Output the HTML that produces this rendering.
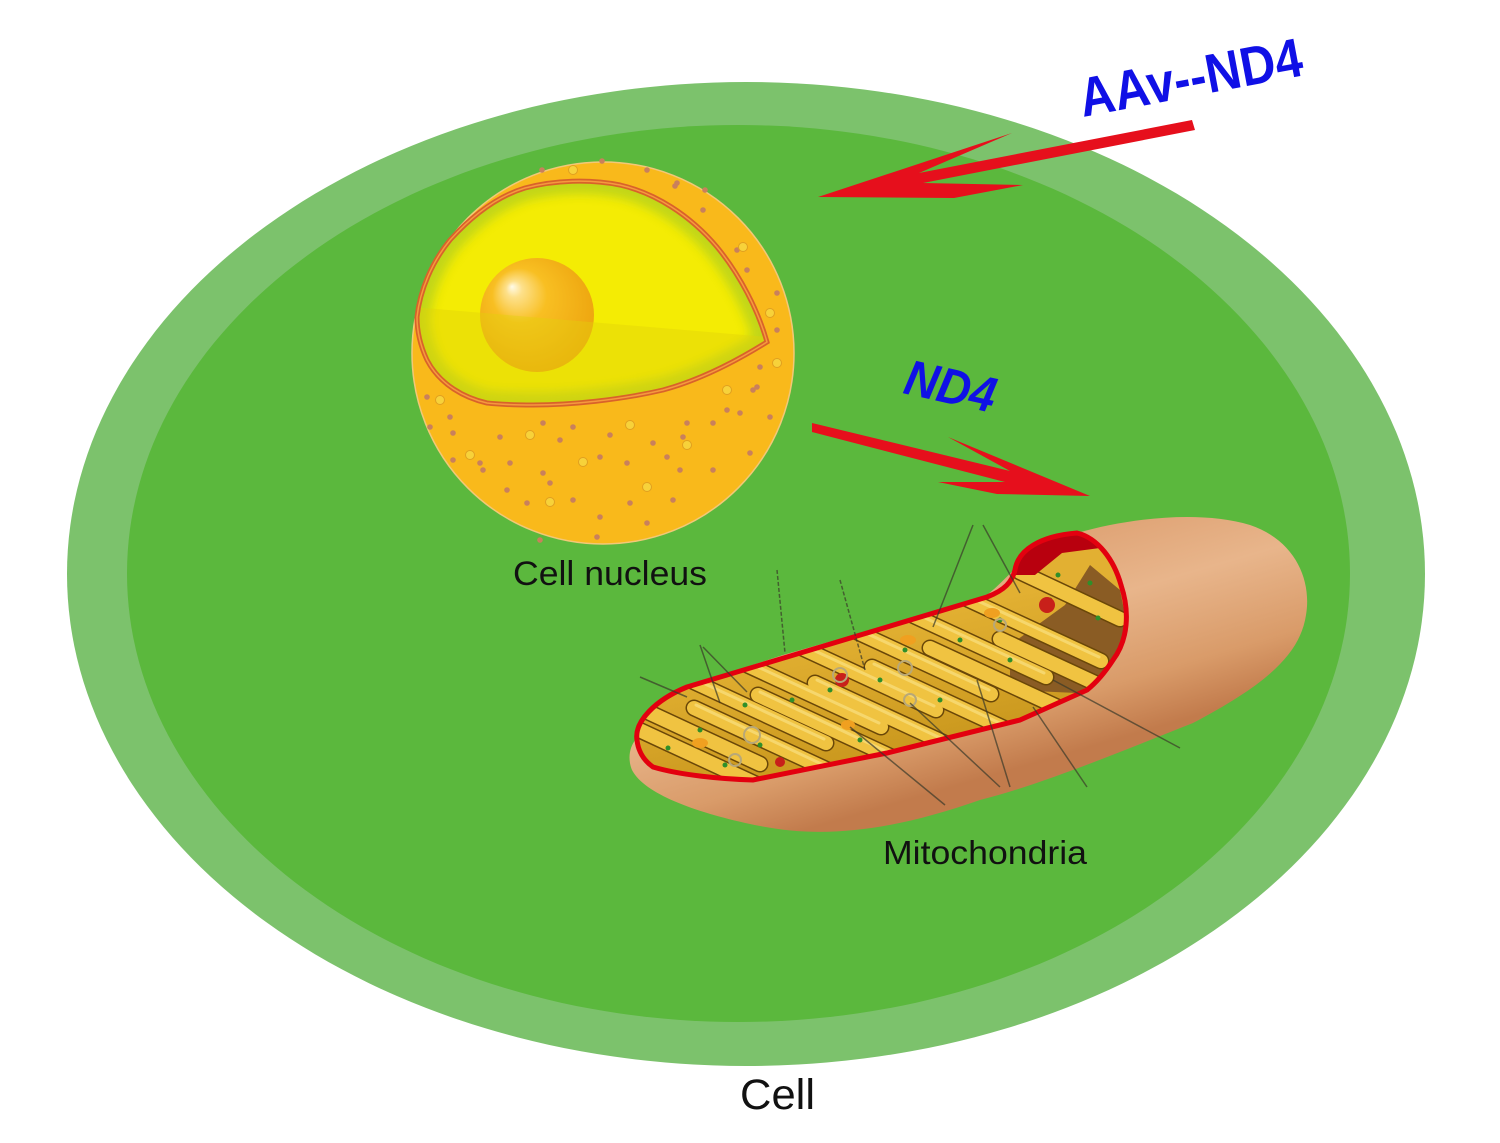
<!DOCTYPE html>
<html><head><meta charset="utf-8"><style>
html,body{margin:0;padding:0;background:#fff;}
svg{display:block;}
text{font-family:"Liberation Sans",Arial,sans-serif;}
</style></head><body>
<svg width="1500" height="1143" viewBox="0 0 1500 1143" xmlns="http://www.w3.org/2000/svg">
<defs>
  <radialGradient id="nucleolus" cx="0.45" cy="0.45" r="0.6" fx="0.28" fy="0.25">
    <stop offset="0" stop-color="#fffbe8"/>
    <stop offset="0.12" stop-color="#fde08a"/>
    <stop offset="0.4" stop-color="#f8bf22"/>
    <stop offset="1" stop-color="#eda40e"/>
  </radialGradient>
  <linearGradient id="tan" gradientUnits="userSpaceOnUse" x1="1130" y1="512" x2="1190" y2="718">
    <stop offset="0" stop-color="#dfa375"/>
    <stop offset="0.35" stop-color="#e8b58b"/>
    <stop offset="0.75" stop-color="#d99b69"/>
    <stop offset="1" stop-color="#c27b4c"/>
  </linearGradient>
  <linearGradient id="goldbase" gradientUnits="userSpaceOnUse" x1="800" y1="640" x2="830" y2="780">
    <stop offset="0" stop-color="#e2b032"/>
    <stop offset="1" stop-color="#c8961c"/>
  </linearGradient>
  <clipPath id="cutclip">
    <path d="M637,740 C634,722 655,700 687,687 L787,657 L987,597 C1005,590 1012,582 1015,570 C1018,550 1040,536 1077,533 C1098,538 1114,560 1121,585 C1130,612 1128,640 1113,660 C1102,677 1092,686 1087,690 L1020,720 L887,753 L753,780 C720,779 680,775 653,767 C643,760 638,750 637,740 Z"/>
  </clipPath>
  <clipPath id="nucclip">
    <path d="M417,317 C420,290 432,262 450,240 C470,218 495,197 525,188 C555,180 590,179 620,185 C655,193 690,215 717,247 C740,275 758,310 767,342 C735,362 700,380 663,390 C620,400 570,405 533,405 C505,405 487,403 487,403 C465,398 440,385 427,360 C420,345 417,330 417,317 Z"/>
  </clipPath>
  <filter id="blur6" x="-20%" y="-20%" width="140%" height="140%"><feGaussianBlur stdDeviation="5"/></filter>
</defs>

<rect width="1500" height="1143" fill="#ffffff"/>

<!-- Cell -->
<ellipse cx="746" cy="574" rx="679" ry="492" fill="#7cc26c"/>
<ellipse cx="738.5" cy="573.5" rx="611.5" ry="448.5" fill="#5bb83d"/>

<!-- Nucleus -->
<circle cx="603" cy="353" r="191" fill="#f9b91b" stroke="#f2c878" stroke-width="1.5"/>
<g clip-path="url(#nucclip)">
  <rect x="400" y="170" width="400" height="250" fill="#f4ec04"/>
  <path d="M417,317 C420,290 432,262 450,240 C470,218 495,197 525,188 C555,180 590,179 620,185 C655,193 690,215 717,247 C740,275 758,310 767,342 C735,362 700,380 663,390 C620,400 570,405 533,405 C505,405 487,403 487,403 C465,398 440,385 427,360 C420,345 417,330 417,317 Z" fill="none" stroke="#b9d21f" stroke-width="26" filter="url(#blur6)" opacity="0.85"/>
  <circle cx="537" cy="315" r="57" fill="url(#nucleolus)"/>
  <polygon points="400,306 780,338 780,430 400,430" fill="#e2d30a" opacity="0.4"/>
</g>
<path d="M417,317 C420,290 432,262 450,240 C470,218 495,197 525,188 C555,180 590,179 620,185 C655,193 690,215 717,247 C740,275 758,310 767,342 C735,362 700,380 663,390 C620,400 570,405 533,405 C505,405 487,403 487,403 C465,398 440,385 427,360 C420,345 417,330 417,317 Z" fill="none" stroke="#d9622a" stroke-width="5"/>
<path d="M417,317 C420,290 432,262 450,240 C470,218 495,197 525,188 C555,180 590,179 620,185 C655,193 690,215 717,247 C740,275 758,310 767,342 C735,362 700,380 663,390 C620,400 570,405 533,405 C505,405 487,403 487,403 C465,398 440,385 427,360 C420,345 417,330 417,317 Z" fill="none" stroke="#f59a3e" stroke-width="1.5"/>
<!-- nucleus dots -->
<g fill="#c9805c">
  <circle cx="450" cy="417" r="2.8"/><circle cx="453" cy="433" r="2.8"/><circle cx="480" cy="463" r="2.8"/>
  <circle cx="500" cy="437" r="2.8"/><circle cx="510" cy="463" r="2.8"/><circle cx="543" cy="423" r="2.8"/>
  <circle cx="543" cy="473" r="2.8"/><circle cx="560" cy="440" r="2.8"/><circle cx="573" cy="427" r="2.8"/>
  <circle cx="600" cy="457" r="2.8"/><circle cx="610" cy="435" r="2.8"/><circle cx="627" cy="463" r="2.8"/>
  <circle cx="630" cy="503" r="2.8"/><circle cx="653" cy="443" r="2.8"/><circle cx="667" cy="457" r="2.8"/>
  <circle cx="683" cy="437" r="2.8"/><circle cx="687" cy="423" r="2.8"/><circle cx="713" cy="423" r="2.8"/>
  <circle cx="727" cy="410" r="2.8"/><circle cx="740" cy="413" r="2.8"/><circle cx="753" cy="390" r="2.8"/>
  <circle cx="770" cy="417" r="2.8"/><circle cx="750" cy="453" r="2.8"/><circle cx="713" cy="470" r="2.8"/>
  <circle cx="680" cy="470" r="2.8"/><circle cx="673" cy="500" r="2.8"/><circle cx="647" cy="523" r="2.8"/>
  <circle cx="600" cy="517" r="2.8"/><circle cx="573" cy="500" r="2.8"/><circle cx="550" cy="483" r="2.8"/>
  <circle cx="527" cy="503" r="2.8"/><circle cx="507" cy="490" r="2.8"/><circle cx="483" cy="470" r="2.8"/>
  <circle cx="453" cy="460" r="2.8"/><circle cx="777" cy="330" r="2.8"/><circle cx="777" cy="293" r="2.8"/>
  <circle cx="747" cy="270" r="2.8"/><circle cx="737" cy="250" r="2.8"/><circle cx="703" cy="210" r="2.8"/>
  <circle cx="677" cy="183" r="2.8"/><circle cx="647" cy="170" r="2.8"/><circle cx="760" cy="367" r="2.8"/>
  <circle cx="757" cy="387" r="2.8"/><circle cx="597" cy="537" r="2.8"/><circle cx="540" cy="540" r="2.8"/>
  <circle cx="427" cy="397" r="2.8"/><circle cx="430" cy="427" r="2.8"/><circle cx="602" cy="161" r="2.8"/>
  <circle cx="542" cy="170" r="2.8"/><circle cx="705" cy="190" r="2.8"/><circle cx="675" cy="186" r="2.8"/>
</g>
<g fill="#f7d23a" stroke="#e0a020" stroke-width="1">
  <circle cx="440" cy="400" r="4.5"/><circle cx="530" cy="435" r="4.5"/><circle cx="630" cy="425" r="4.5"/>
  <circle cx="687" cy="445" r="4.5"/><circle cx="583" cy="462" r="4.5"/><circle cx="550" cy="502" r="4.5"/>
  <circle cx="647" cy="487" r="4.5"/><circle cx="770" cy="313" r="4.5"/><circle cx="743" cy="247" r="4.5"/>
  <circle cx="470" cy="455" r="4.5"/><circle cx="727" cy="390" r="4.5"/><circle cx="777" cy="363" r="4.5"/>
  <circle cx="573" cy="170" r="4.5"/>
</g>

<!-- Mitochondrion outer -->
<path d="M637,738 C636,722 648,712 665,700 L700,682 L783,655 L867,631 L980,600 C995,590 1005,578 1017,567 C1030,552 1045,540 1077,533 C1130,518 1200,510 1250,525 C1295,540 1312,580 1306,615 C1300,655 1265,685 1193,723 C1120,752 1040,785 980,800 C900,828 830,840 760,826 C700,814 645,795 632,770 C627,758 630,745 637,738 Z" fill="url(#tan)"/>

<!-- Mitochondrion cut interior -->
<g clip-path="url(#cutclip)">
  <rect x="620" y="520" width="520" height="280" fill="url(#goldbase)"/>
  <polygon points="1010,690 1010,645 1065,605 1090,565 1120,590 1130,640 1103,677 1077,693" fill="#8a5c24"/>
  <g stroke-linecap="round" fill="none">
    <g stroke="#6a4708" stroke-width="17">
      <line x1="648" y1="712" x2="760" y2="764"/>
      <line x1="690" y1="680" x2="826" y2="743"/>
      <line x1="745" y1="664" x2="881" y2="727"/>
      <line x1="800" y1="647" x2="936" y2="710"/>
      <line x1="855" y1="631" x2="991" y2="694"/>
      <line x1="910" y1="614" x2="1046" y2="677"/>
      <line x1="965" y1="598" x2="1101" y2="661"/>
      <line x1="1020" y1="572" x2="1120" y2="619"/>
      <line x1="758" y1="785" x2="622" y2="722"/>
      <line x1="830" y1="771" x2="694" y2="708"/>
      <line x1="894" y1="758" x2="758" y2="695"/>
      <line x1="951" y1="746" x2="815" y2="683"/>
      <line x1="1008" y1="730" x2="872" y2="667"/>
      <line x1="1066" y1="711" x2="930" y2="648"/>
      <line x1="1110" y1="690" x2="1000" y2="639"/>
    </g>
    <g stroke="#f0c341" stroke-width="14">
      <line x1="648" y1="712" x2="760" y2="764"/>
      <line x1="690" y1="680" x2="826" y2="743"/>
      <line x1="745" y1="664" x2="881" y2="727"/>
      <line x1="800" y1="647" x2="936" y2="710"/>
      <line x1="855" y1="631" x2="991" y2="694"/>
      <line x1="910" y1="614" x2="1046" y2="677"/>
      <line x1="965" y1="598" x2="1101" y2="661"/>
      <line x1="1020" y1="572" x2="1120" y2="619"/>
      <line x1="758" y1="785" x2="622" y2="722"/>
      <line x1="830" y1="771" x2="694" y2="708"/>
      <line x1="894" y1="758" x2="758" y2="695"/>
      <line x1="951" y1="746" x2="815" y2="683"/>
      <line x1="1008" y1="730" x2="872" y2="667"/>
      <line x1="1066" y1="711" x2="930" y2="648"/>
      <line x1="1110" y1="690" x2="1000" y2="639"/>
    </g>
    <g stroke="#f8dc78" stroke-width="3" opacity="0.8">
      <line x1="690" y1="677" x2="824" y2="739"/>
      <line x1="745" y1="661" x2="879" y2="723"/>
      <line x1="800" y1="644" x2="934" y2="706"/>
      <line x1="855" y1="628" x2="989" y2="690"/>
      <line x1="910" y1="611" x2="1044" y2="673"/>
      <line x1="965" y1="595" x2="1099" y2="657"/>
      <line x1="830" y1="768" x2="696" y2="705"/>
      <line x1="894" y1="755" x2="760" y2="692"/>
      <line x1="951" y1="743" x2="817" y2="680"/>
      <line x1="1008" y1="727" x2="874" y2="664"/>
    </g>
  </g>
  <polygon points="1015,575 1022,550 1050,537 1080,533 1100,548 1062,553 1035,575" fill="#b8000e"/>
  <!-- particles -->
  <g fill="#2f8f2a">
    <circle cx="700" cy="730" r="2.5"/><circle cx="745" cy="705" r="2.5"/><circle cx="792" cy="700" r="2.5"/>
    <circle cx="830" cy="690" r="2.5"/><circle cx="880" cy="680" r="2.5"/><circle cx="860" cy="740" r="2.5"/>
    <circle cx="905" cy="650" r="2.5"/><circle cx="960" cy="640" r="2.5"/><circle cx="1000" cy="620" r="2.5"/>
    <circle cx="1050" cy="600" r="2.5"/><circle cx="1090" cy="583" r="2.5"/><circle cx="1098" cy="618" r="2.5"/>
    <circle cx="760" cy="745" r="2.5"/><circle cx="725" cy="765" r="2.5"/><circle cx="1010" cy="660" r="2.5"/>
    <circle cx="940" cy="700" r="2.5"/><circle cx="668" cy="748" r="2.5"/><circle cx="1058" cy="575" r="2.5"/>
  </g>
  <g fill="#c8201a">
    <circle cx="842" cy="680" r="7"/><circle cx="1047" cy="605" r="8"/><circle cx="780" cy="762" r="5"/>
  </g>
  <g fill="#f0a020">
    <ellipse cx="700" cy="743" rx="8" ry="5"/><ellipse cx="848" cy="725" rx="7" ry="5"/>
    <ellipse cx="908" cy="640" rx="8" ry="5"/><ellipse cx="992" cy="613" rx="8" ry="5"/>
  </g>
  <g fill="none" stroke="#b8a878" stroke-width="2">
    <circle cx="752" cy="735" r="8"/><circle cx="840" cy="675" r="7"/><circle cx="905" cy="668" r="7"/>
    <circle cx="1000" cy="625" r="6"/><circle cx="910" cy="700" r="6"/><circle cx="735" cy="760" r="6"/>
  </g>
</g>
<path d="M637,740 C634,722 655,700 687,687 L787,657 L987,597 C1005,590 1012,582 1015,570 C1018,550 1040,536 1077,533 C1098,538 1114,560 1121,585 C1130,612 1128,640 1113,660 C1102,677 1092,686 1087,690 L1020,720 L887,753 L753,780 C720,779 680,775 653,767 C643,760 638,750 637,740 Z" fill="none" stroke="#e3000f" stroke-width="5"/>

<!-- pointer lines -->
<g stroke="#3a3a2a" stroke-width="1.5" opacity="0.7" fill="none">
  <line x1="777" y1="570" x2="785" y2="653" stroke-dasharray="4,2"/>
  <line x1="840" y1="580" x2="865" y2="670" stroke-dasharray="4,2"/>
  <line x1="700" y1="645" x2="720" y2="703"/>
  <line x1="703" y1="647" x2="747" y2="692"/>
  <line x1="640" y1="677" x2="687" y2="697"/>
  <line x1="973" y1="525" x2="933" y2="627"/>
  <line x1="983" y1="525" x2="1020" y2="593"/>
  <line x1="850" y1="727" x2="945" y2="805"/>
  <line x1="910" y1="703" x2="1000" y2="787"/>
  <line x1="977" y1="680" x2="1010" y2="787"/>
  <line x1="1033" y1="707" x2="1087" y2="787"/>
  <line x1="1053" y1="680" x2="1180" y2="748"/>
</g>

<!-- Arrows -->
<polygon points="818,197 1012,133 919,173 1192,120 1195,130 923,183 1023,185 954,198" fill="#e60f1c"/>
<polygon points="812,423 1010,471 948,437 1090,496 997,494 938,482 1005,482 812,432" fill="#e60f1c"/>

<!-- Labels -->
<text x="1083" y="117" transform="rotate(-10.7 1083 117)" font-size="55" font-weight="bold" fill="#1010e6" textLength="226" lengthAdjust="spacingAndGlyphs">AAv--ND4</text>
<text x="902" y="393" transform="rotate(12.5 902 393)" font-size="50" font-weight="bold" font-style="italic" fill="#1010e6" textLength="92" lengthAdjust="spacingAndGlyphs">ND4</text>
<text x="513" y="585" font-size="34" fill="#111" textLength="194" lengthAdjust="spacingAndGlyphs">Cell nucleus</text>
<text x="883" y="864" font-size="33" fill="#111" textLength="204" lengthAdjust="spacingAndGlyphs">Mitochondria</text>
<text x="740" y="1109" font-size="43" fill="#111" textLength="75" lengthAdjust="spacingAndGlyphs">Cell</text>
</svg>
</body></html>
